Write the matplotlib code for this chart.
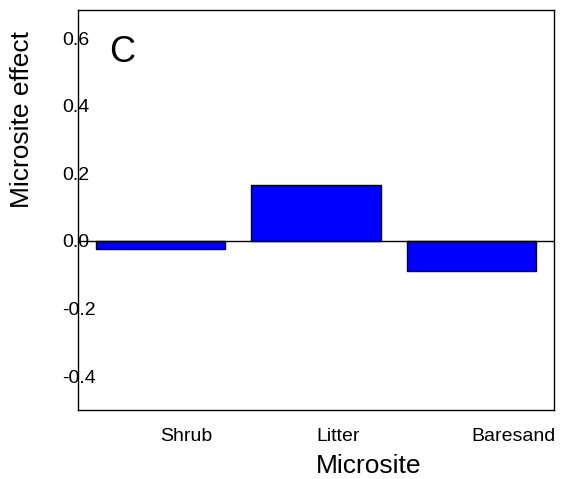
import matplotlib

matplotlib.use("Agg")
import matplotlib.pyplot as plt

plt.rcParams["font.family"] = ["Liberation Sans", "DejaVu Sans"]

# data
sites = ["Shrub", "Litter", "Baresand"]
effects = [-0.023, 0.164, -0.090]
y_ticks = [-0.4, -0.2, 0.0, 0.2, 0.4, 0.6]
y_tick_labels = ["-0.4", "-0.2", "0.0", "0.2", "0.4", "0.6"]

W, H = 561, 479
fig = plt.figure(figsize=(W / 100, H / 100), dpi=100)
ax = fig.add_axes([78 / W, 1 - 410 / H, (554 - 78) / W, (410 - 10) / H])

# R barplot style positions: width 1, space 0.2
centers = [0.7 + 1.2 * i for i in range(len(sites))]
ax.bar(centers, effects, width=1.0, color="#0000FF", edgecolor="black",
       linewidth=1, zorder=2)
ax.axhline(0, color="black", linewidth=1, zorder=3)

ax.set_xlim(0.2 - 0.136, 3.6 + 0.136)
ax.set_ylim(-0.5, 0.683)

ax.set_yticks(y_ticks)
ax.set_yticklabels(y_tick_labels, fontsize=14, ha="left")
ax.tick_params(axis="y", length=0, pad=11.5)

ax.set_xticks(centers)
ax.set_xticklabels(sites, fontsize=14, ha="left")
ax.tick_params(axis="x", length=0, pad=13)

for s in ax.spines.values():
    s.set_color("black")
    s.set_linewidth(1)

ax.text((109 - 78) / 476, (410 - 62) / 400, "C", transform=ax.transAxes,
        fontsize=26, ha="left", va="baseline")

fig.text(316 / W, 1 - 473 / H, "Microsite", fontsize=19, ha="left",
         va="baseline")
fig.text(22 / W, 1 - 119 / H, "Microsite effect", fontsize=19, ha="center",
         va="center", rotation=90)

fig.savefig("out.png", dpi=100)
